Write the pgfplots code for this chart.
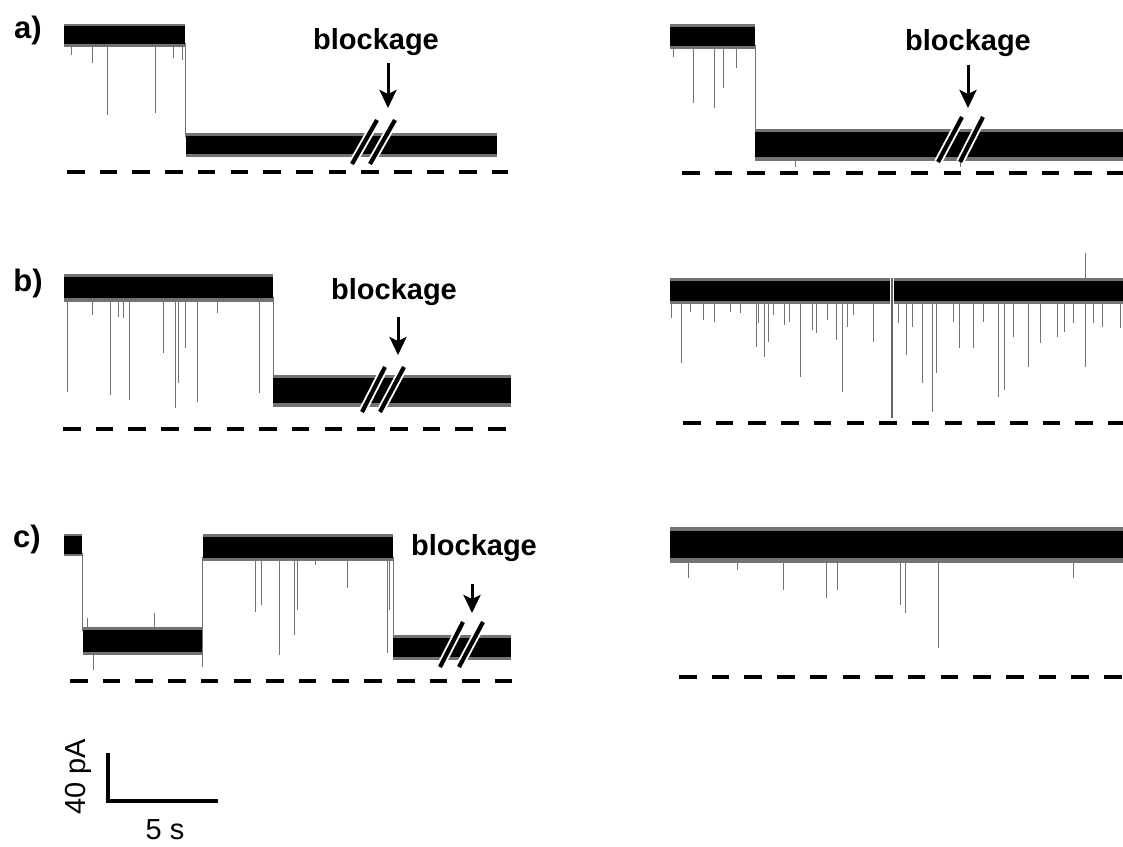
\documentclass[border=0pt]{standalone}
\usepackage{pgfplots}
\pgfplotsset{compat=1.18}
\usepackage{fontspec}
\setmainfont{Liberation Sans}
\usetikzlibrary{arrows.meta}

% band: x1 x2 coretop corebottom fuzztop fuzzbottom
\newcommand{\band}[6]{%
 \addplot[fill=black!55, draw=none] coordinates {(#1,#5) (#2,#5) (#2,#6) (#1,#6)} -- cycle;
 \addplot[fill=black, draw=none] coordinates {(#1,#3) (#2,#3) (#2,#4) (#1,#4)} -- cycle;
}
\tikzset{
 spike/.style={black!55, line width=0.9pt},
 base/.style={black, line width=4pt, dash pattern=on 17.5pt off 15.2pt},
 brk/.style={line width=4.2pt},
 brkw/.style={white, line width=8pt},
 arr/.style={line width=3pt, -{Stealth[length=18pt,width=17pt,inset=4pt]}},
 lbl/.style={font=\fontsize{29}{32}\selectfont\bfseries, inner sep=0pt},
 plbl/.style={font=\fontsize{31}{34}\selectfont\bfseries, inner sep=0pt},
}

\begin{document}
\begin{tikzpicture}
\begin{axis}[width=1123pt, height=846pt, scale only axis, hide axis,
  xmin=0, xmax=1123, ymin=0, ymax=846, y dir=reverse, clip=false,
  unbounded coords=jump]

% ---------------- a) left ----------------
\addplot[spike] coordinates {(185,43) (185,137)};
\band{64}{185}{26}{44}{24}{47}
\band{186}{497}{136}{154}{133}{157}
\addplot[spike] coordinates {(107,44) (107,115) (107,nan) (155,44) (155,113) (155,nan)
 (92,44) (92,63) (92,nan) (71,44) (71,55) (71,nan) (173,44) (173,58) (173,nan) (182,44) (182,60)};
\addplot[base] coordinates {(67,172) (508,172)};
\draw[brkw] (axis cs:352,164) -- (axis cs:377,120) (axis cs:370,164) -- (axis cs:395,120);
\draw[brk] (axis cs:352,164) -- (axis cs:377,120) (axis cs:370,164) -- (axis cs:395,120);
\draw[arr] (axis cs:388,63) -- (axis cs:388,108);
\node[lbl] at (axis cs:376,42) {blockage};
\node[plbl] at (axis cs:28,30) {a)};

% ---------------- a) right ----------------
\addplot[spike] coordinates {(755,45) (755,134)};
\band{670}{755}{27}{46}{24}{49}
\band{755}{1123}{132}{157}{129}{161}
\addplot[spike] coordinates {(693,46) (693,103) (693,nan) (714,46) (714,108) (714,nan)
 (723,46) (723,88) (723,nan) (736,46) (736,68) (736,nan) (673,46) (673,57) (673,nan)
 (795,157) (795,167) (795,nan) (960,157) (960,167)};
\addplot[base] coordinates {(682,173) (1123,173)};
\draw[brkw] (axis cs:938,162) -- (axis cs:962,117) (axis cs:960,162) -- (axis cs:983,117);
\draw[brk] (axis cs:938,162) -- (axis cs:962,117) (axis cs:960,162) -- (axis cs:983,117);
\draw[arr] (axis cs:968,65) -- (axis cs:968,108);
\node[lbl] at (axis cs:968,43) {blockage};

% ---------------- b) left ----------------
\addplot[spike] coordinates {(273,297) (273,380)};
\band{64}{273}{277}{298}{274}{302}
\band{273}{511}{378}{403}{375}{407}
\addplot[spike] coordinates {(67,298) (67,392) (67,nan) (92,298) (92,315) (92,nan)
 (110,298) (110,395) (110,nan) (118,298) (118,317) (118,nan) (123,298) (123,318) (123,nan)
 (129,298) (129,400) (129,nan) (163,298) (163,353) (163,nan) (175,298) (175,408) (175,nan)
 (178,298) (178,383) (178,nan) (185,298) (185,348) (185,nan) (197,298) (197,402) (197,nan)
 (217,298) (217,313) (217,nan) (259,298) (259,393)};
\addplot[base] coordinates {(63,429) (507,429)};
\draw[brkw] (axis cs:362,412) -- (axis cs:385,367) (axis cs:380,412) -- (axis cs:404,367);
\draw[brk] (axis cs:362,412) -- (axis cs:385,367) (axis cs:380,412) -- (axis cs:404,367);
\draw[arr] (axis cs:398,317) -- (axis cs:398,355);
\node[lbl] at (axis cs:394,292) {blockage};
\node[plbl] at (axis cs:28,283) {b)};

% ---------------- b) right ----------------
\band{670}{890}{281}{301}{278}{304}
\band{894}{1123}{281}{301}{278}{304}
\addplot[black!60, line width=1.2pt] coordinates {(892,278) (892,418)};
\addplot[spike] coordinates {(1085,281) (1085,253)};
\addplot[spike] coordinates {(671,301) (671,318) (671,nan) (681,301) (681,363) (681,nan)
 (690,301) (690,312) (690,nan) (703,301) (703,320) (703,nan) (714,301) (714,322) (714,nan)
 (730,301) (730,312) (730,nan) (740,301) (740,313) (740,nan) (756,301) (756,347) (756,nan)
 (758,301) (758,323) (758,nan) (764,301) (764,357) (764,nan) (768,301) (768,342) (768,nan)
 (773,301) (773,315) (773,nan) (784,301) (784,325) (784,nan) (789,301) (789,322) (789,nan)
 (800,301) (800,377) (800,nan) (812,301) (812,330) (812,nan) (816,301) (816,333) (816,nan)
 (827,301) (827,320) (827,nan) (836,301) (836,340) (836,nan) (842,301) (842,392) (842,nan)
 (847,301) (847,327) (847,nan) (853,301) (853,315) (853,nan) (873,301) (873,342) (873,nan)
 (898,301) (898,323) (898,nan) (906,301) (906,355) (906,nan)
 (912,301) (912,327) (912,nan) (922,301) (922,383) (922,nan) (932,301) (932,412) (932,nan)
 (936,301) (936,373) (936,nan) (953,301) (953,322) (953,nan) (959,301) (959,348) (959,nan)
 (973,301) (973,348) (973,nan) (983,301) (983,322) (983,nan) (998,301) (998,397) (998,nan)
 (1004,301) (1004,390) (1004,nan) (1013,301) (1013,337) (1013,nan) (1028,301) (1028,367) (1028,nan)
 (1040,301) (1040,343) (1040,nan) (1057,301) (1057,337) (1057,nan) (1064,301) (1064,332) (1064,nan)
 (1073,301) (1073,323) (1073,nan) (1085,301) (1085,367) (1085,nan) (1093,301) (1093,323) (1093,nan)
 (1102,301) (1102,327) (1102,nan) (1120,301) (1120,328)};
\addplot[base] coordinates {(683,423) (1123,423)};

% ---------------- c) left ----------------
\addplot[spike] coordinates {(82,553) (82,631) (82,nan) (202,557) (202,667) (202,nan) (393,557) (393,639)};
\band{64}{82}{536}{554}{534}{556}
\band{83}{202}{630}{652}{627}{655}
\band{203}{393}{537}{558}{534}{561}
\band{393}{511}{638}{657}{635}{660}
\addplot[spike] coordinates {(87,630) (87,618) (87,nan) (154,630) (154,613) (154,nan) (93,652) (93,670)};
\addplot[spike] coordinates {(255,558) (255,612) (255,nan) (261,558) (261,605) (261,nan)
 (279,558) (279,655) (279,nan) (294,558) (294,635) (294,nan) (297,558) (297,610) (297,nan)
 (315,558) (315,565) (315,nan) (347,558) (347,588) (347,nan) (387,558) (387,653) (387,nan)
 (389,558) (389,610)};
\addplot[base] coordinates {(70,681) (512,681)};
\draw[brkw] (axis cs:440,667) -- (axis cs:463,622) (axis cs:459,667) -- (axis cs:483,622);
\draw[brk] (axis cs:440,667) -- (axis cs:463,622) (axis cs:459,667) -- (axis cs:483,622);
\draw[arr] (axis cs:472,584) -- (axis cs:472,613);
\node[lbl] at (axis cs:474,548) {blockage};
\node[plbl] at (axis cs:27,539) {c)};

% ---------------- c) right ----------------
\band{670}{1123}{531}{558}{527}{563}
\addplot[spike] coordinates {(688,558) (688,578) (688,nan) (737,558) (737,570) (737,nan)
 (783,558) (783,590) (783,nan) (826,558) (826,598) (826,nan) (837,558) (837,590) (837,nan)
 (900,558) (900,605) (900,nan) (905,558) (905,613) (905,nan) (938,558) (938,648) (938,nan)
 (1073,558) (1073,578)};
\addplot[base] coordinates {(679,677) (1123,677)};

% ---------------- scale bar ----------------
\addplot[black, line width=3.5pt] coordinates {(108,753) (108,801) (218,801)};
\node[font=\fontsize{29}{31}\selectfont, rotate=90, inner sep=0pt] at (axis cs:78,777) {40 pA};
\node[font=\fontsize{29}{31}\selectfont, inner sep=0pt] at (axis cs:165,830) {5 s};
\end{axis}
\pgfresetboundingbox
\path[use as bounding box] (current axis.south west) rectangle (current axis.north east);
\end{tikzpicture}
\end{document}
